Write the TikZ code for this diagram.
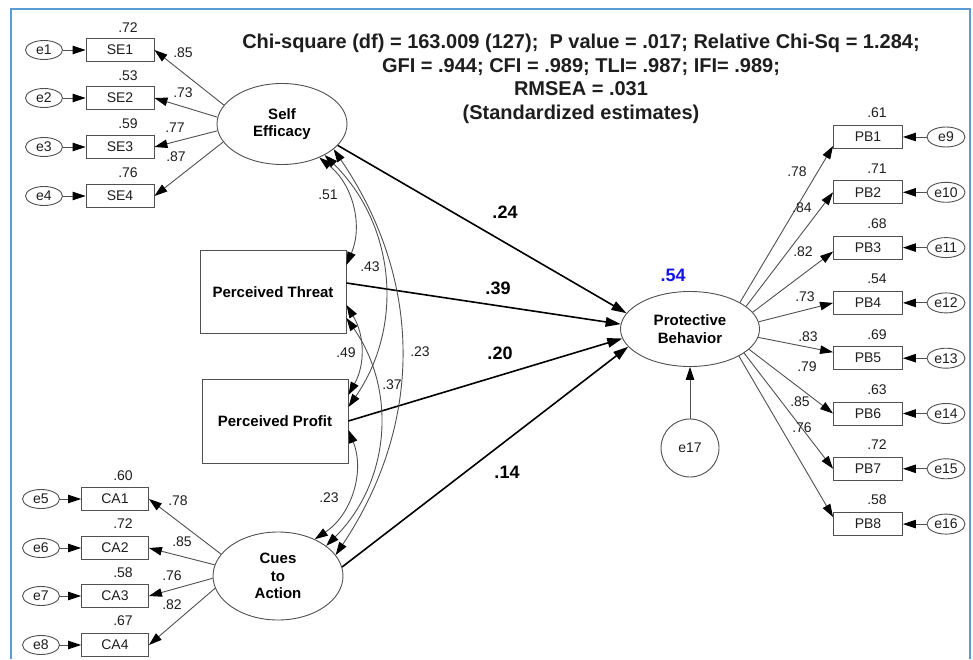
\documentclass[tikz,border=0pt]{standalone}
\usepackage{fontspec}
\setmainfont{Liberation Sans}
\usetikzlibrary{shapes.geometric,arrows.meta}
\definecolor{frameblue}{RGB}{91,155,213}
\definecolor{linegray}{RGB}{80,80,80}
\definecolor{txtgray}{RGB}{30,30,30}
\begin{document}
\begin{tikzpicture}[x=1pt,y=1pt,
  >={Triangle[length=13pt,width=8.5pt,color=black]},
  obs/.style={draw=linegray, line width=0.9pt, minimum width=68pt, minimum height=23pt, inner sep=0pt, text=txtgray, font=\fontsize{14}{16}\selectfont},
  errn/.style={ellipse, draw=linegray, line width=0.9pt, minimum width=37pt, minimum height=19pt, inner sep=0pt, text=txtgray, font=\fontsize{14}{16}\selectfont},
  latent/.style={ellipse, draw=linegray, line width=0.9pt, inner sep=0pt, align=center, font=\bfseries\fontsize{15}{17.5}\selectfont},
  bigobs/.style={draw=linegray, line width=0.9pt, minimum width=146pt, minimum height=83pt, inner sep=0pt, font=\bfseries\fontsize{15}{18}\selectfont},
  lbl/.style={font=\fontsize{14}{16}\selectfont, inner sep=0pt, text=txtgray},
  coef/.style={font=\bfseries\fontsize{18}{20}\selectfont, inner sep=0pt},
  loadarr/.style={->, draw=linegray, line width=0.9pt},
  patharr/.style={->, draw=black, line width=1.6pt, >={Triangle[length=15pt,width=9.5pt]}},
  covarr/.style={<->, draw=linegray, line width=0.9pt},
]
\useasboundingbox (0,0) rectangle (973,659);
\fill[white] (0,0) rectangle (973,659);
\draw[frameblue, line width=2pt] (11,0) -- (11,650) -- (970,650) -- (970,0);

% title
\node[font=\bfseries\fontsize{20}{23.5}\selectfont, align=center, text=txtgray] (title) at (581,580)
  {Chi-square (df) = 163.009 (127);\ \ P value = .017; Relative Chi-Sq = 1.284;\\
   GFI = .944; CFI = .989; TLI= .987; IFI= .989;\\
   RMSEA = .031\\
   (Standardized estimates)};

% latent and main nodes
\node[latent, minimum width=130pt, minimum height=81pt] (SE) at (282,535) {Self\\Efficacy};
\node[bigobs] (PT) at (273,367) {Perceived Threat};
\node[bigobs, minimum height=84pt] (PP) at (275,238) {Perceived Profit};
\node[latent, minimum width=130pt, minimum height=88pt] (CA) at (278,83) {Cues\\to\\Action};
\node[latent, minimum width=139pt, minimum height=75pt] (PB) at (690,330) {Protective\\Behavior};
\node[circle, draw=linegray, line width=0.9pt, minimum size=58pt, inner sep=0pt, text=txtgray, font=\fontsize{14}{16}\selectfont] (e17) at (690,211) {e17};

% SE indicators
\node[obs] (SE1) at (120,609) {SE1};
\node[obs] (SE2) at (120,561) {SE2};
\node[obs] (SE3) at (120,512) {SE3};
\node[obs] (SE4) at (120,463) {SE4};
\node[errn] (e1) at (44,609) {e1};
\node[errn] (e2) at (44,561) {e2};
\node[errn] (e3) at (44,512) {e3};
\node[errn] (e4) at (44,463) {e4};
\node[lbl] (rSE1) at (128,631) {.72};
\node[lbl] (rSE2) at (128,583) {.53};
\node[lbl] (rSE3) at (128,535) {.59};
\node[lbl] (rSE4) at (128,486) {.76};

% CA indicators
\node[obs, minimum width=67pt] (CA1) at (115,160) {CA1};
\node[obs, minimum width=67pt] (CA2) at (115,111) {CA2};
\node[obs, minimum width=67pt] (CA3) at (115,63) {CA3};
\node[obs, minimum width=67pt] (CA4) at (115,14) {CA4};
\node[errn] (e5) at (41,160) {e5};
\node[errn] (e6) at (41,111) {e6};
\node[errn] (e7) at (41,63) {e7};
\node[errn] (e8) at (41,14) {e8};
\node[lbl] (rCA1) at (123,183) {.60};
\node[lbl] (rCA2) at (123,135) {.72};
\node[lbl] (rCA3) at (123,86) {.58};
\node[lbl] (rCA4) at (123,38) {.67};

% PB indicators
\foreach \i/\y/\r in {1/522/.61, 2/466.7/.71, 3/411.4/.68, 4/356.1/.54, 5/300.8/.69, 6/245.5/.63, 7/190.2/.72, 8/134.9/.58}{
  \node[obs, minimum width=69pt] (PB\i) at (868,\y) {PB\i};
  \pgfmathtruncatemacro{\en}{\i+8}
  \node[errn, minimum width=38pt, minimum height=20pt] (e\en) at (946,\y) {e\en};
  \node[lbl] (rPB\i) at (877,\y+24) {\r};
  \draw[loadarr] (e\en) -- (PB\i);
}

% error arrows left
\foreach \i in {1,2,3,4}{ \draw[loadarr] (e\i) -- (SE\i); }
\foreach \i/\j in {5/1,6/2,7/3,8/4}{ \draw[loadarr] (e\i) -- (CA\j); }

% loadings SE
\draw[loadarr] (SE.162) -- (SE1.east);
\draw[loadarr] (SE.174) -- (SE2.east);
\draw[loadarr] (SE.186) -- (SE3.east);
\draw[loadarr] (SE.197) -- (SE4.east);
\node[lbl] (lSE1) at (183,606) {.85};
\node[lbl] (lSE2) at (183,566) {.73};
\node[lbl] (lSE3) at (175,531) {.77};
\node[lbl] (lSE4) at (176,502) {.87};

% loadings CA
\draw[loadarr] (CA.159) -- (CA1.east);
\draw[loadarr] (CA.170) -- (CA2.east);
\draw[loadarr] (CA.182) -- (CA3.east);
\draw[loadarr] (CA.191) -- (CA4.east);
\node[lbl] (lCA1) at (178,158) {.78};
\node[lbl] (lCA2) at (182,117) {.85};
\node[lbl] (lCA3) at (172,83) {.76};
\node[lbl] (lCA4) at (172,54) {.82};

% loadings PB
\draw[loadarr] (PB.28) -- ([yshift=-9pt]PB1.west);
\draw[loadarr] (PB.22) -- (PB2.west);
\draw[loadarr] (PB.15) -- ([yshift=-4pt]PB3.west);
\draw[loadarr] (PB.6) -- (PB4.west);
\draw[loadarr] (PB.-7) -- ([yshift=6pt]PB5.west);
\draw[loadarr] (PB.-19) -- (PB6.west);
\draw[loadarr] (PB.-24) -- (PB7.west);
\draw[loadarr] (PB.-29) -- ([yshift=7pt]PB8.west);
\node[lbl] (lPB1) at (797,487) {.78};
\node[lbl] (lPB2) at (802,451) {.84};
\node[lbl] (lPB3) at (803,407) {.82};
\node[lbl] (lPB4) at (805,362) {.73};
\node[lbl] (lPB5) at (808,322) {.83};
\node[lbl] (lPB6) at (807,292) {.79};
\node[lbl] (lPB7) at (800,257) {.85};
\node[lbl] (lPB8) at (802,231) {.76};

% structural paths
\draw[patharr] (SE.-21) -- (PB.166);
\draw[patharr] ([yshift=9pt]PT.east) -- (PB.176);
\draw[patharr] (PP.east) -- (PB.188);
\draw[patharr] (CA.8) -- (PB.196);
\draw[loadarr] (e17) -- (PB);
\node[coef] (c1) at (505,447) {.24};
\node[coef] (c2) at (498,371) {.39};
\node[coef] (c3) at (500,306) {.20};
\node[coef] (c4) at (507,187) {.14};
\node[coef, text={rgb,255:red,20;green,20;blue,235}] (r2PB) at (673,384) {.54};

% covariances
\draw[covarr] (SE.-42) to[bend left=37] ([yshift=27pt]PT.east);
\draw[covarr] (SE.-36) to[bend left=40] ([yshift=14pt]PP.east);
\draw[covarr] (SE.-26) to[bend left=34] (CA.20);
\draw[covarr] ([yshift=-13pt]PT.east) to[bend left=30] ([yshift=26pt]PP.east);
\draw[covarr] ([yshift=-26pt]PT.east) to[bend left=40] (CA.32);
\draw[covarr] ([yshift=-9pt]PP.east) to[bend left=39] (CA.45);
\node[lbl] (k1) at (328,464) {.51};
\node[lbl] (k2) at (370,392) {.43};
\node[lbl] (k3) at (420,307) {.23};
\node[lbl] (k4) at (346,306) {.49};
\node[lbl] (k5) at (392,274) {.37};
\node[lbl] (k6) at (329,161) {.23};
\end{tikzpicture}
\end{document}
